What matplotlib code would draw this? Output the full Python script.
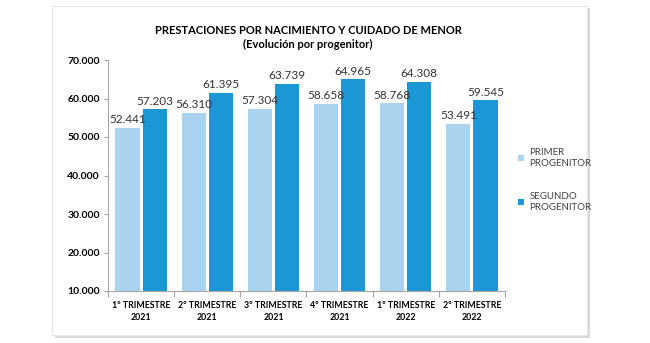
import numpy as np
import matplotlib
matplotlib.use("Agg")
import matplotlib.pyplot as plt
from matplotlib.patches import Rectangle

# data
categories = ["1º TRIMESTRE\n2021", "2º TRIMESTRE\n2021", "3º TRIMESTRE\n2021",
              "4º TRIMESTRE\n2021", "1º TRIMESTRE\n2022", "2º TRIMESTRE\n2022"]
primer = [52441, 56310, 57304, 58658, 58768, 53491]
segundo = [57203, 61395, 63739, 64965, 64308, 59545]
series_names = ["PRIMER\nPROGENITOR", "SEGUNDO\nPROGENITOR"]
yticks = [10000, 20000, 30000, 40000, 50000, 60000, 70000]

light = "#a9d3ef"
dark = "#1b97d5"

plt.rcParams['font.family'] = ['Lato', 'DejaVu Sans']

def fmt(v):
    #spanish thousands separator
    return "{:,}".format(v).replace(",", ".")

fig = plt.figure(figsize=(6.5, 3.43), dpi=100)

#chart frame with a soft shadow on the right and bottom
W, H = 650.0, 343.0
fig.patches.append(Rectangle((55 / W, 1 - 338 / H), 535 / W, 330 / H,
                             transform=fig.transFigure, facecolor="#d9d9d9",
                             edgecolor="none", zorder=-2))
fig.patches.append(Rectangle((52 / W, 1 - 335 / H), 535 / W, 329 / H,
                             transform=fig.transFigure, facecolor="white",
                             edgecolor="#e6e6e6", linewidth=0.8, zorder=-1))

ax = fig.add_axes([108 / W, 1 - 291 / H, 397 / W, 231 / H])
ax.set_zorder(2)
ax.set_facecolor("none")

x = np.arange(len(categories))
w = 0.365
off = 0.205
b1 = ax.bar(x - off, primer, width=w, color=light, label=series_names[0], zorder=2)
b2 = ax.bar(x + off, segundo, width=w, color=dark, label=series_names[1], zorder=2)

for bars, vals in ((b1, primer), (b2, segundo)):
    for r, v in zip(bars, vals):
        ax.text(r.get_x() + r.get_width() / 2, v + 700, fmt(v), ha="center",
                va="bottom", fontsize=8.5, color="#333333")

ax.set_ylim(10000, 70000)
ax.set_xlim(-0.5, len(categories) - 0.5)
ax.set_yticks(yticks)
ax.set_yticklabels([fmt(t) for t in yticks], fontsize=7.5, fontweight="bold")

#category labels centred, tick marks on the group boundaries
ax.set_xticks(x)
ax.set_xticklabels(categories, fontsize=6.3, fontweight="bold", linespacing=1.5)
ax.tick_params(axis="x", length=0, pad=7)
ax.set_xticks(np.arange(len(categories) + 1) - 0.5, minor=True)
ax.tick_params(axis="x", which="minor", length=4, color="#a6a6a6", width=0.8)
ax.tick_params(axis="y", length=3, color="#a6a6a6", width=0.8, pad=3)

for s in ["top", "right"]:
    ax.spines[s].set_visible(False)
for s in ["left", "bottom"]:
    ax.spines[s].set_color("#a6a6a6")
    ax.spines[s].set_linewidth(0.8)

leg = ax.legend(loc="upper left", bbox_to_anchor=(1.01, 0.655), frameon=False,
                fontsize=7, handlelength=0.6, handleheight=0.6,
                handletextpad=0.6, labelspacing=2.5, borderaxespad=0.5)
for t in leg.get_texts():
    t.set_color("#404040")

fig.text(308 / W, 1 - 31 / H, "PRESTACIONES POR NACIMIENTO Y CUIDADO DE MENOR",
         ha="center", va="center", fontsize=8, fontweight="bold")
fig.text(308 / W, 1 - 44 / H, "(Evolución por progenitor)",
         ha="center", va="center", fontsize=8, fontweight="bold")

fig.savefig("out.png", dpi=100, facecolor="white")
